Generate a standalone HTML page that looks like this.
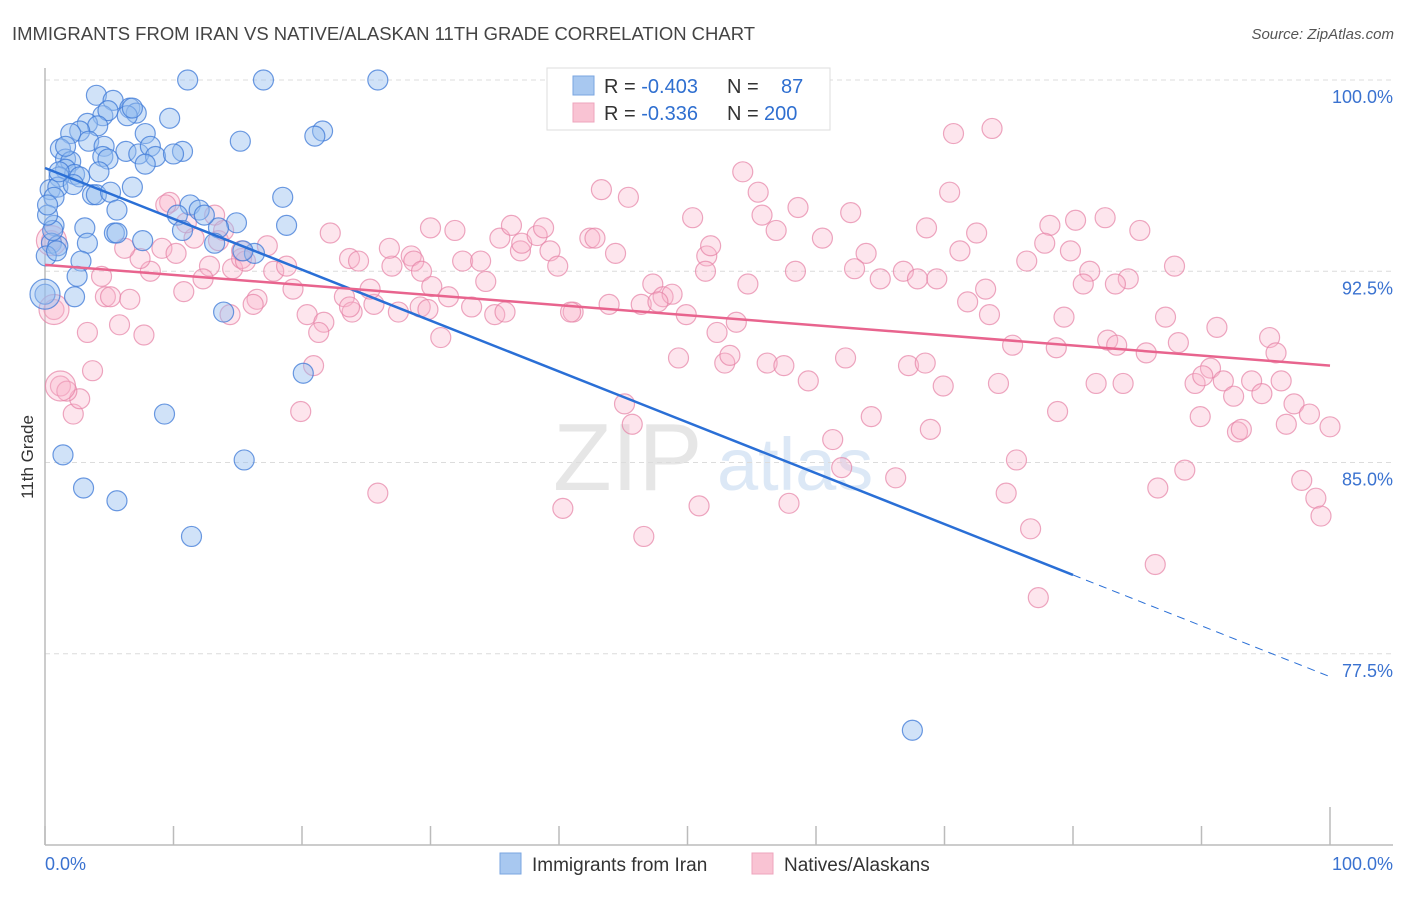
<!DOCTYPE html>
<html><head><meta charset="utf-8"><style>
body{margin:0;background:#fff;font-family:"Liberation Sans",sans-serif}
svg text{font-family:"Liberation Sans",sans-serif}
</style></head><body>
<svg id="chart" width="1406" height="892" xmlns="http://www.w3.org/2000/svg">
<text x="12" y="40" font-size="18" fill="#444" textLength="743" lengthAdjust="spacingAndGlyphs">IMMIGRANTS FROM IRAN VS NATIVE/ALASKAN 11TH GRADE CORRELATION CHART</text>
<text x="1394" y="39" font-size="15" fill="#555" font-style="italic" text-anchor="end">Source: ZipAtlas.com</text>
<g>
<text x="553" y="490" font-size="96" font-family="Liberation Serif,serif" fill="#e6e6e6">ZIP</text>
<text x="717" y="490" font-size="74" fill="#dce8f6">atlas</text>
</g>
<g id="grid"></g>
<g id="axes"></g>
<g id="pts"></g>
<g id="trend"></g>
<text transform="translate(33,457) rotate(-90)" font-size="17" fill="#333" text-anchor="middle">11th Grade</text>
<g>
<rect x="547" y="68" width="283" height="62" fill="#fff" stroke="#ddd"/>
<rect x="573" y="76" width="21" height="19" fill="#a8c8f0" stroke="#7aa6e0"/>
<rect x="573" y="103" width="21" height="19" fill="#f9c3d3" stroke="#eea4bc"/>
<text x="604" y="93" font-size="20" fill="#333">R = <tspan fill="#2f6fd0">-0.403</tspan><tspan x="727">N =</tspan><tspan x="781" fill="#2f6fd0">87</tspan></text>
<text x="604" y="120" font-size="20" fill="#333">R = <tspan fill="#2f6fd0"> -0.336</tspan><tspan x="727">N =</tspan><tspan x="764" fill="#2f6fd0">200</tspan></text>
</g>
<g>
<rect x="500" y="853" width="21" height="21" fill="#a8c8f0" stroke="#7aa6e0"/>
<text x="532" y="871" font-size="19" fill="#333">Immigrants from Iran</text>
<rect x="752" y="853" width="21" height="21" fill="#f9c3d3" stroke="#eea4bc"/>
<text x="784" y="871" font-size="19" fill="#333">Natives/Alaskans</text>
</g>
</svg>
<script>
const blueX=[11.1,17.0,25.9,4.0,5.3,6.6,7.1,4.5,4.9,6.4,9.7,3.3,4.1,2.7,2.0,7.8,21.6,21.0,15.2,1.2,3.4,4.6,6.3,7.3,8.2,8.6,10.7,10.0,4.5,4.9,1.6,2.0,7.8,4.2,1.6,2.3,1.1,2.7,0.4,1.0,2.2,6.8,3.7,4.0,5.1,18.5,0.7,5.6,11.3,12.0,10.3,14.9,18.8,0.7,3.1,13.5,10.7,5.4,7.6,13.2,0.5,1.0,3.3,16.3,2.8,2.5,0.0,2.3,13.9,20.1,9.3,1.4,15.5,3.0,5.6,11.4,67.5,0.1,0.6,0.2,1.6,5.6,15.4,12.4,0.2,0.9,1.1,6.8];
const blueY=[100.0,100.0,100.0,99.4,99.2,98.9,98.7,98.6,98.8,98.6,98.5,98.3,98.2,98.0,97.9,97.9,98.0,97.8,97.6,97.3,97.6,97.4,97.2,97.1,97.4,97.0,97.2,97.1,97.0,96.9,96.9,96.8,96.7,96.4,96.5,96.3,96.2,96.2,95.7,95.8,95.9,95.8,95.5,95.5,95.6,95.4,95.4,94.9,95.1,94.9,94.7,94.4,94.3,94.3,94.2,94.2,94.1,94.0,93.7,93.6,93.6,93.5,93.6,93.2,92.9,92.3,91.6,91.5,90.9,88.5,86.9,85.3,85.1,84.0,83.5,82.1,74.5,93.1,94.1,94.7,97.4,94.0,93.3,94.7,95.1,93.3,96.4,98.9];
const pinkX=[60.1,73.7,70.7,43.3,45.4,54.3,55.5,58.6,62.7,70.4,82.5,80.2,78.2,85.2,50.4,55.8,56.9,60.5,63.9,68.6,72.5,79.8,77.8,81.3,84.3,87.9,71.2,73.2,76.4,83.3,80.8,63.0,65.0,66.8,67.9,69.4,71.8,73.5,79.3,87.2,91.2,82.7,83.4,85.7,88.2,95.3,95.8,75.3,78.7,90.7,89.5,91.7,93.9,96.2,90.1,92.5,94.7,81.8,83.9,89.9,92.8,97.2,98.4,100.0,96.6,93.1,78.8,69.9,74.2,75.6,88.7,86.6,97.8,98.9,99.3,74.8,76.7,86.4,77.3,66.2,64.3,61.3,59.4,62.3,67.2,68.5,56.2,57.5,52.9,53.3,49.3,52.3,53.8,68.9,62.0,57.9,50.9,46.6,40.3,25.9,19.9,3.7,2.2,2.7,1.2,1.7,0.7,0.5,4.7,5.1,6.6,3.3,7.7,5.8,4.4,10.8,8.2,7.4,9.1,6.2,10.2,11.6,14.6,15.3,15.6,12.8,12.3,14.4,16.5,16.2,17.8,18.8,19.3,17.3,20.4,21.7,21.3,20.9,23.3,23.9,25.6,23.7,25.3,27.5,29.2,29.8,27.0,28.5,28.7,29.3,30.1,30.8,31.4,32.5,33.9,33.2,34.3,35.0,35.8,31.9,30.0,23.7,22.2,24.4,26.8,35.4,36.3,37.0,37.1,38.3,38.8,39.3,39.9,41.1,40.9,42.4,42.8,44.4,43.9,45.1,45.7,46.4,47.3,48.1,48.8,47.7,49.9,51.5,51.4,51.8,54.7,58.4,13.2,9.7,13.5,9.4,15.3,13.9,11.0];
const pinkY=[98.8,98.1,97.9,95.7,95.4,96.4,95.6,95.0,94.8,95.6,94.6,94.5,94.3,94.1,94.6,94.7,94.1,93.8,93.2,94.2,94.0,93.3,93.6,92.5,92.2,92.7,93.3,91.8,92.9,92.0,92.0,92.6,92.2,92.5,92.2,92.2,91.3,90.8,90.7,90.7,90.3,89.8,89.6,89.3,89.7,89.9,89.3,89.6,89.5,88.7,88.1,88.2,88.2,88.2,88.4,87.6,87.7,88.1,88.1,86.8,86.2,87.3,86.9,86.4,86.5,86.3,87.0,88.0,88.1,85.1,84.7,84.0,84.3,83.6,82.9,83.8,82.4,81.0,79.7,84.4,86.8,85.9,88.2,89.1,88.8,88.9,88.9,88.8,88.9,89.2,89.1,90.1,90.5,86.3,84.8,83.4,83.3,82.1,83.2,83.8,87.0,88.6,86.9,87.5,88.0,87.8,91.0,93.7,91.5,91.5,91.4,90.1,90.0,90.4,92.3,91.7,92.5,93.0,93.4,93.4,93.2,93.8,92.6,93.0,92.9,92.7,92.2,90.8,91.4,91.2,92.5,92.7,91.8,93.5,90.8,90.5,90.1,88.8,91.5,90.9,91.2,91.1,91.8,90.9,91.1,91.0,92.7,93.1,92.9,92.5,91.9,89.9,91.5,92.9,92.9,91.1,92.1,90.8,90.9,94.1,94.2,93.0,94.0,92.9,93.4,93.8,94.3,93.3,93.6,93.9,94.2,93.3,92.7,90.9,90.9,93.8,93.8,93.2,91.2,87.3,86.5,91.2,92.0,91.5,91.6,91.3,90.8,93.1,92.5,93.5,92.0,92.5,94.7,95.2,93.7,95.1,93.3,94.1,94.4];
const bigBlueX=[0.0], bigBlueY=[91.6];
const bigPinkX=[1.2,0.7,0.5], bigPinkY=[88.0,91.0,93.7];
const blueTrend=[96.55,76.6], blueSolidEnd=80;
const pinkTrend=[92.75,88.8];
const yTicks=[100,92.5,85,77.5], yTickLabels=["100.0%","92.5%","85.0%","77.5%"];
const xTicks=[0,10,20,30,40,50,60,70,80,90,100];

const NS="http://www.w3.org/2000/svg";
const X=v=>45+v*12.85, Y=v=>80+(100-v)*25.5;
function mk(tag,at,parent){const e=document.createElementNS(NS,tag);for(const k in at)e.setAttribute(k,at[k]);document.getElementById(parent).appendChild(e);return e;}
yTicks.forEach((t,i)=>{
 const g=mk('line',{x1:45,x2:1393,y1:Y(t),y2:Y(t),stroke:'#dcdcdc','stroke-dasharray':'5,4'},'grid');
 
 
 const l=mk('text',{x:1393,y:Y(t)+23,'font-size':18,fill:'#3a72d0','text-anchor':'end'},'grid');
 l.textContent=yTickLabels[i];
 
 
});
const ax=mk('line',{x1:45,x2:1393,y1:845,y2:845,stroke:'#bbb','stroke-width':1.5},'axes');


const ay=mk('line',{x1:45,x2:45,y1:68,y2:845,stroke:'#bbb','stroke-width':1.5},'axes');


xTicks.forEach(t=>{
 const tk=mk('line',{x1:X(t),x2:X(t),y1:845,y2:t==100?807:826,stroke:'#bbb','stroke-width':1.5},'axes');
 
 
});
const xl0=mk('text',{x:45,y:870,'font-size':18,fill:'#3a72d0'},'axes');xl0.textContent='0.0%';


const xl1=mk('text',{x:1393,y:870,'font-size':18,fill:'#3a72d0','text-anchor':'end'},'axes');xl1.textContent='100.0%';


function dots(xs,ys,r,fill,stroke,name){xs.forEach((v,i)=>{
 const c=mk('circle',{cx:X(v),cy:Y(ys[i]),r:r,fill:fill,stroke:stroke,'stroke-width':1.2},'pts');
 
 
});}
dots(pinkX,pinkY,10,'rgba(248,180,202,0.35)','rgba(230,130,165,0.7)','native-point');
dots(bigPinkX,bigPinkY,15,'rgba(248,180,202,0.35)','rgba(230,130,165,0.7)','native-point');
dots(blueX,blueY,10,'rgba(150,190,240,0.45)','rgba(60,120,215,0.75)','iran-point');
dots(bigBlueX,bigBlueY,15,'rgba(150,190,240,0.45)','rgba(60,120,215,0.75)','iran-point');
const by=x=>blueTrend[0]+(blueTrend[1]-blueTrend[0])*x/100;
const py=x=>pinkTrend[0]+(pinkTrend[1]-pinkTrend[0])*x/100;
const b1=mk('line',{x1:X(0),y1:Y(by(0)),x2:X(blueSolidEnd),y2:Y(by(blueSolidEnd)),stroke:'#2a6fd6','stroke-width':2.5},'trend');


const b2=mk('line',{x1:X(blueSolidEnd),y1:Y(by(blueSolidEnd)),x2:X(100),y2:Y(by(100)),stroke:'#2a6fd6','stroke-width':1,'stroke-dasharray':'8,6'},'trend');


const p1=mk('line',{x1:X(0),y1:Y(py(0)),x2:X(100),y2:Y(py(100)),stroke:'#e8648e','stroke-width':2.5},'trend');


</script>
</body></html>
